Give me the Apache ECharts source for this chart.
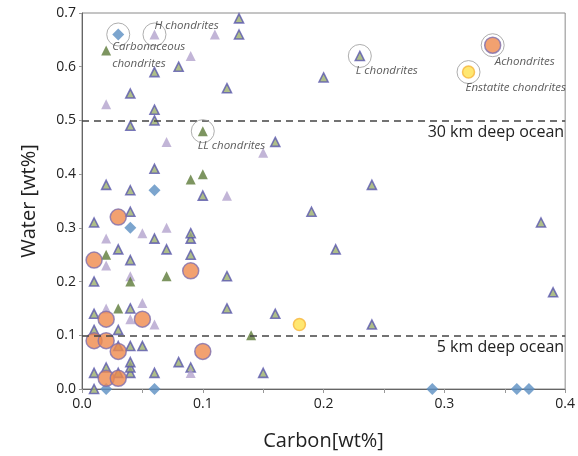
<!DOCTYPE html>
<html>
<head>
<meta charset="utf-8">
<script src="https://cdn.jsdelivr.net/npm/echarts@6/dist/echarts.min.js"></script>
<style>
  html, body { margin: 0; padding: 0; background: #fff; }
  #chart { width: 578px; height: 456px; }
</style>
</head>
<body>
<div id="chart"></div>
<script>
// [carbon wt%, water wt%]
const blueTriangles = [
  [0.01, 0.00], [0.01, 0.03], [0.02, 0.04], [0.03, 0.03], [0.04, 0.03], [0.04, 0.04], [0.04, 0.05],
  [0.06, 0.03], [0.08, 0.05], [0.09, 0.04], [0.15, 0.03], [0.03, 0.08], [0.04, 0.08], [0.05, 0.08],
  [0.01, 0.11], [0.03, 0.11], [0.01, 0.14], [0.04, 0.15], [0.12, 0.15], [0.16, 0.14], [0.24, 0.12],
  [0.39, 0.18], [0.01, 0.20], [0.12, 0.21], [0.04, 0.24], [0.09, 0.25], [0.03, 0.26], [0.07, 0.26],
  [0.21, 0.26], [0.06, 0.28], [0.09, 0.28], [0.09, 0.29], [0.01, 0.31], [0.38, 0.31], [0.04, 0.33],
  [0.19, 0.33], [0.10, 0.36], [0.04, 0.37], [0.02, 0.38], [0.24, 0.38], [0.06, 0.41], [0.16, 0.46],
  [0.04, 0.49], [0.06, 0.50], [0.06, 0.52], [0.04, 0.55], [0.12, 0.56], [0.20, 0.58], [0.06, 0.59],
  [0.08, 0.60], [0.23, 0.62], [0.13, 0.66], [0.13, 0.69]
]
const lilacTriangles = [
  [0.09, 0.03], [0.06, 0.12], [0.04, 0.13], [0.02, 0.15], [0.05, 0.16], [0.04, 0.21], [0.02, 0.23],
  [0.02, 0.28], [0.05, 0.29], [0.07, 0.30], [0.12, 0.36], [0.15, 0.44], [0.07, 0.46], [0.02, 0.53],
  [0.09, 0.62], [0.11, 0.66], [0.06, 0.66]
]
const greenTriangles = [
  [0.14, 0.10], [0.03, 0.15], [0.04, 0.20], [0.07, 0.21], [0.02, 0.25], [0.09, 0.39], [0.10, 0.40],
  [0.10, 0.48], [0.02, 0.63]
]
const diamonds = [
  [0.02, 0.00], [0.06, 0.00], [0.29, 0.00], [0.36, 0.00], [0.37, 0.00], [0.04, 0.30], [0.06, 0.37],
  [0.03, 0.66]
]
const orangeCircles = [
  [0.02, 0.02], [0.03, 0.02], [0.03, 0.07], [0.10, 0.07], [0.01, 0.09], [0.02, 0.09], [0.02, 0.13],
  [0.05, 0.13], [0.09, 0.22], [0.01, 0.24], [0.03, 0.32], [0.34, 0.64]
]
const yellowCircles = [[0.18, 0.12], [0.32, 0.59]]

// circled meteorite classes
const classNames = ['Carbonaceous\nchondrites', 'H chondrites', 'L chondrites', 'LL chondrites', 'Achondrites', 'Enstatite chondrites']
const classPoints = [[0.03, 0.66], [0.06, 0.66], [0.23, 0.62], [0.10, 0.48], [0.34, 0.64], [0.32, 0.59]]
const labelPos = [[6, 16], [12, 3], [8, 27], [7, 27], [14, 28], [9, 28]]

const oceanLevels = [0.5, 0.1]
const oceanLabels = ['30 km deep ocean', '5 km deep ocean']

const font = '"Open Sans", "Noto Sans", sans-serif'

const chart = echarts.init(document.getElementById('chart'))

const tri = (data, fill, border, size) => ({
  type: 'scatter',
  data: data,
  symbol: 'triangle',
  symbolSize: size,
  itemStyle: { color: fill, borderColor: border, borderWidth: border ? 1.6 : 0 },
  z: 2
})

chart.setOption({
  animation: false,
  grid: {
    left: 82, right: 12, top: 13, bottom: 67,
    show: true, borderColor: '#8a8a8a', borderWidth: 1
  },
  xAxis: {
    type: 'value', min: 0, max: 0.4, interval: 0.1,
    name: 'Carbon[wt%]', nameLocation: 'middle', nameGap: 42,
    nameTextStyle: { fontFamily: font, fontSize: 20, color: '#222' },
    axisLine: { lineStyle: { color: '#666' } },
    axisTick: { show: true, length: 4, lineStyle: { color: '#999' } },
    minorTick: { show: true, splitNumber: 2, length: 4, lineStyle: { color: '#999' } },
    splitLine: { show: false },
    axisLabel: { fontFamily: font, fontSize: 14, color: '#222', margin: 8, formatter: v => v.toFixed(1) }
  },
  yAxis: {
    type: 'value', min: 0, max: 0.7, interval: 0.1,
    name: 'Water [wt%]', nameLocation: 'middle', nameGap: 43,
    nameTextStyle: { fontFamily: font, fontSize: 20, color: '#222' },
    axisLine: { show: true, lineStyle: { color: '#666' } },
    axisTick: { show: true, length: 3, lineStyle: { color: '#999' } },
    splitLine: { show: false },
    axisLabel: { fontFamily: font, fontSize: 14, color: '#222', margin: 6, formatter: v => v.toFixed(1) }
  },
  series: [
    Object.assign(tri(blueTriangles, '#9aae6c', '#5a58ac', 9), {
      markLine: {
        silent: true,
        symbol: 'none',
        lineStyle: { color: '#444', type: [7, 5], width: 1.5 },
        label: {
          position: 'insideEndBottom', fontFamily: font, fontSize: 16, color: '#222',
          formatter: p => oceanLabels[p.dataIndex], distance: [1, 4]
        },
        data: oceanLevels.map(v => ({ yAxis: v }))
      }
    }),
    tri(lilacTriangles, '#b3a3cd', null, 10),
    tri(greenTriangles, '#5d7a38', null, 10),
    {
      type: 'scatter', data: diamonds, symbol: 'diamond', symbolSize: 12,
      itemStyle: { color: '#5b8fc2' }, z: 3
    },
    {
      type: 'scatter', data: orangeCircles, symbol: 'circle', symbolSize: 16,
      itemStyle: { color: '#ef8a4c', borderColor: '#7f6fae', borderWidth: 1.5 }, z: 4
    },
    {
      type: 'scatter', data: yellowCircles, symbol: 'circle', symbolSize: 12,
      itemStyle: { color: '#ffe14e', borderColor: '#f6b53c', borderWidth: 1.5 }, z: 4
    },
    {
      type: 'scatter',
      data: classPoints.map((p, i) => ({
        value: p,
        label: {
          position: labelPos[i], formatter: classNames[i],
          verticalAlign: classNames[i].includes('\n') ? 'top' : 'middle'
        }
      })),
      symbol: 'circle', symbolSize: 23,
      itemStyle: { color: 'rgba(0,0,0,0)', borderColor: '#9a9a9a', borderWidth: 1 },
      label: {
        show: true, fontFamily: font, fontStyle: 'italic', fontSize: 11.5, color: '#333',
        align: 'left', lineHeight: 17
      },
      z: 5
    }
  ]
})
</script>
</body>
</html>
